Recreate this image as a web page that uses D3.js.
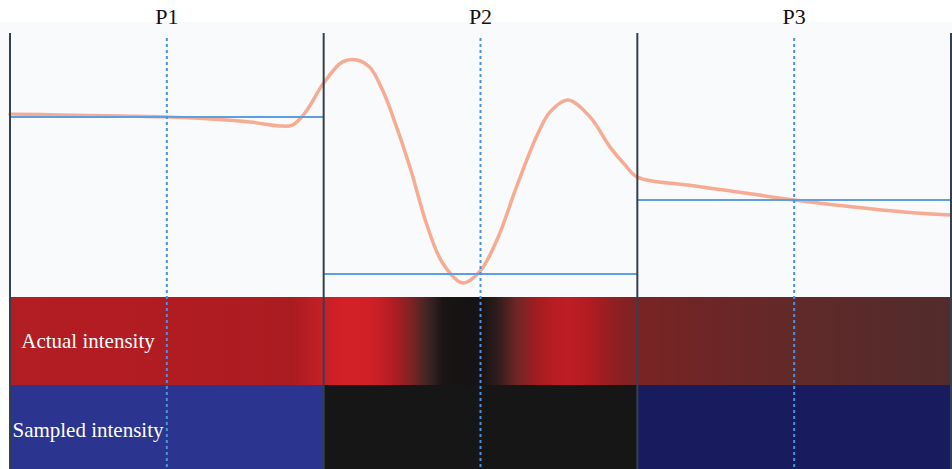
<!DOCTYPE html>
<html>
<head>
<meta charset="utf-8">
<script src="https://cdn.jsdelivr.net/npm/d3@7"></script>
<style>
  html, body { margin: 0; padding: 0; background: #ffffff; }
  svg { display: block; }
</style>
</head>
<body>
<svg id="chart" width="952" height="469"></svg>
<script>
// ---- data ----
const panels = ["P1", "P2", "P3"];
const samplePositions = [0.5, 1.5, 2.5];
// actual intensity signal (x in panel units, value 0..100)
const signalX = [0.00, 0.16, 0.35, 0.50, 0.64, 0.765, 0.86, 0.90, 0.94,
                 1.00, 1.06, 1.106, 1.148, 1.189, 1.221, 1.275, 1.329, 1.380, 1.444, 1.498,
                 1.553, 1.616, 1.680, 1.722, 1.779, 1.849, 1.913, 1.961,
                 2.00, 2.16, 2.32, 2.50, 2.69, 2.85, 3.00];
const signalV = [66.5, 66.2, 65.8, 65.5, 64.7, 63.6, 62.2, 62.5, 66.9,
                 77.8, 85.5, 86.2, 83.4, 74.9, 65.5, 47.3, 26.2, 12.2, 5.1, 9.3,
                 20.9, 40.4, 58.7, 67.3, 71.6, 65.5, 54.5, 48.0,
                 43.6, 40.7, 38.2, 35.3, 32.7, 30.9, 29.8];
// sampled intensity (value at each sample point)
const sampledV = [65.5, 8.4, 35.3];
const bandLabels = ["Actual intensity", "Sampled intensity"];

// ---- layout ----
const W = 952, H = 469;
const plotTop = 22, plotBottom = 297;
const band1Top = 297, band1Bottom = 385, band2Bottom = 469;

const svg = d3.select("#chart");
const x = d3.scaleLinear().domain([0, 3]).range([10, 951]);
const y = d3.scaleLinear().domain([0, 100]).range([plotBottom, plotTop]);

const actualColor = d3.scaleLinear()
  .domain([10, 20, 30, 43, 60, 72, 85])
  .range(["#151313", "#2a1a1a", "#532c2c", "#782424", "#a51b20", "#bf1e25", "#d42027"])
  .clamp(true);
const sampledColor = d3.scaleLinear()
  .domain([8, 35, 66])
  .range(["#161616", "#181b5c", "#2b3490"])
  .clamp(true);

const signal = signalX.map((d, i) => ({ x: d, v: signalV[i] }));

// plot background
svg.append("rect")
  .attr("x", 0).attr("y", plotTop)
  .attr("width", W).attr("height", plotBottom - plotTop)
  .attr("fill", "#f9fafc");

// gradients for actual intensity per panel
const defs = svg.append("defs");
panels.forEach((p, i) => {
  const g = defs.append("linearGradient")
    .attr("id", "grad" + i)
    .attr("x1", "0%").attr("x2", "100%").attr("y1", "0%").attr("y2", "0%");
  signal.filter(d => d.x >= i && d.x <= i + 1).forEach(d => {
    g.append("stop")
      .attr("offset", ((d.x - i) * 100) + "%")
      .attr("stop-color", actualColor(d.v));
  });
});

// actual intensity band
svg.selectAll("rect.actual").data(panels).enter().append("rect")
  .attr("class", "actual")
  .attr("x", (d, i) => x(i)).attr("y", band1Top)
  .attr("width", (d, i) => x(i + 1) - x(i)).attr("height", band1Bottom - band1Top)
  .attr("fill", (d, i) => "url(#grad" + i + ")");

// sampled intensity band
svg.selectAll("rect.sampled").data(sampledV).enter().append("rect")
  .attr("class", "sampled")
  .attr("x", (d, i) => x(i)).attr("y", band1Bottom)
  .attr("width", (d, i) => x(i + 1) - x(i)).attr("height", band2Bottom - band1Bottom)
  .attr("fill", d => sampledColor(d));

// left margin white strip
svg.append("rect").attr("x", 0).attr("y", band1Top).attr("width", x(0)).attr("height", H - band1Top).attr("fill", "#ffffff");

// signal curve
const line = d3.line().x(d => x(d.x)).y(d => y(d.v)).curve(d3.curveCatmullRom.alpha(0.5));
svg.append("path")
  .datum(signal)
  .attr("d", line)
  .attr("fill", "none")
  .attr("stroke", "#f6a78c")
  .attr("stroke-width", 3.5)
  .attr("stroke-linecap", "round")
  .attr("opacity", 0.95);

// sampled value lines
svg.selectAll("line.sample").data(sampledV).enter().append("line")
  .attr("class", "sample")
  .attr("x1", (d, i) => x(i)).attr("x2", (d, i) => x(i + 1))
  .attr("y1", d => y(d)).attr("y2", d => y(d))
  .attr("stroke", "#5e9ee3").attr("stroke-width", 2);

// panel dividers
svg.selectAll("line.divider").data([0, 1, 2, 3]).enter().append("line")
  .attr("class", "divider")
  .attr("x1", d => x(d)).attr("x2", d => x(d))
  .attr("y1", 33).attr("y2", H)
  .attr("stroke", "#33414c").attr("stroke-width", 2);

// dotted sample-position lines
svg.selectAll("line.pos").data(samplePositions).enter().append("line")
  .attr("class", "pos")
  .attr("x1", d => x(d)).attr("x2", d => x(d))
  .attr("y1", 38).attr("y2", H)
  .attr("stroke", "#4b92dc").attr("stroke-width", 2)
  .attr("stroke-dasharray", "3,3");

// panel labels
svg.selectAll("text.panel").data(panels).enter().append("text")
  .attr("class", "panel")
  .attr("x", (d, i) => x(samplePositions[i]))
  .attr("y", 24)
  .attr("text-anchor", "middle")
  .attr("font-family", "Liberation Serif, Times New Roman, serif")
  .attr("font-size", 22)
  .attr("fill", "#111")
  .text(d => d);

// band labels
svg.selectAll("text.band").data(bandLabels).enter().append("text")
  .attr("class", "band")
  .attr("x", 88)
  .attr("y", (d, i) => i === 0 ? 348 : 437)
  .attr("text-anchor", "middle")
  .attr("font-family", "Liberation Serif, Times New Roman, serif")
  .attr("font-size", 21)
  .attr("fill", "#ffffff")
  .text(d => d);
</script>
</body>
</html>
